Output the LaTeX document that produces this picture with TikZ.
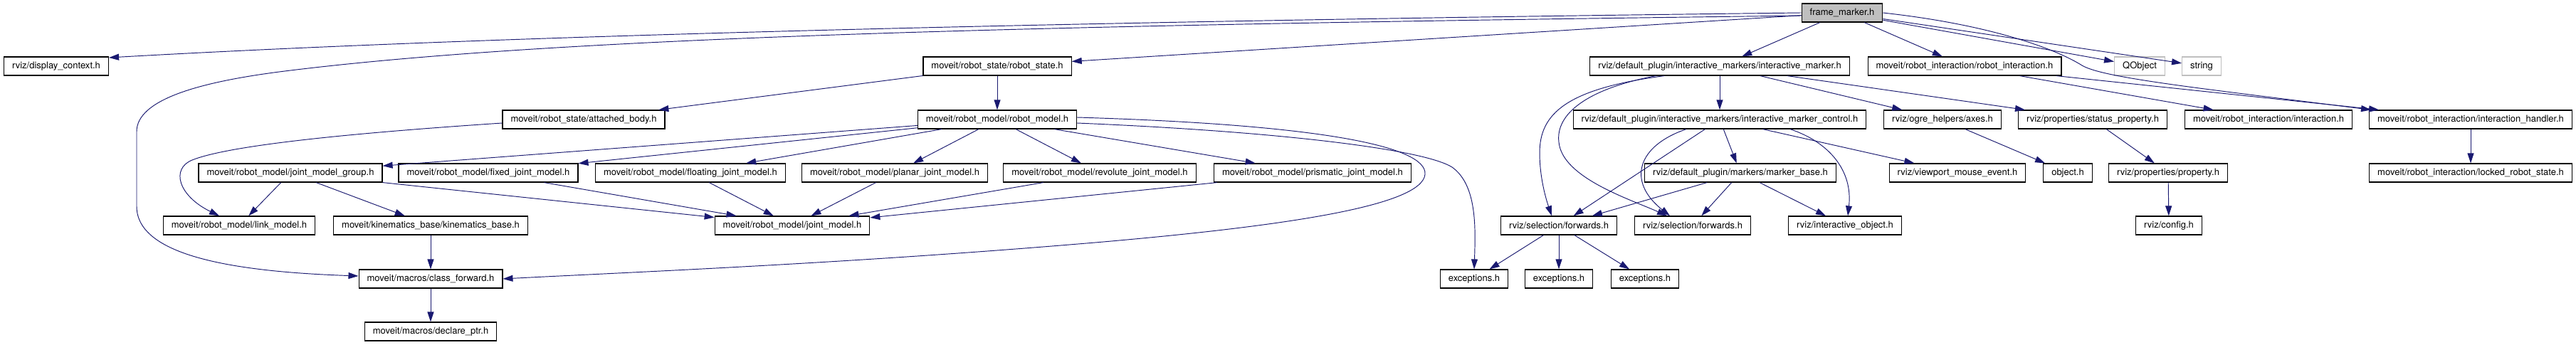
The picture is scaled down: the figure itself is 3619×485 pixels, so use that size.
\documentclass[tikz,border=0pt]{standalone}
\usepackage{fontspec}
\setmainfont{TeX Gyre Heros}
\usetikzlibrary{arrows.meta,calc}
\definecolor{edgeblue}{HTML}{191970}
\definecolor{extgray}{HTML}{BFBFBF}

\begin{document}
\begin{tikzpicture}[x=0.01cm, y=-0.01cm,
      every node/.style={font=\fontsize{3.7}{4.4}\selectfont},
      hdr/.style={draw=black, fill=white, line width=0.34pt,
                  minimum height=0.26cm, inner xsep=0.115cm, inner ysep=0pt},
      ext/.style={hdr, draw=extgray},
      root/.style={hdr, fill=extgray},
      inc/.style={draw=edgeblue, line width=0.27pt,
                  -{Triangle[length=1.4mm, width=0.9mm]}}]
    \path[use as bounding box, fill=white] (0,0) rectangle (3619,485);

    \node[root] (fm) at (2588,18) {frame\_marker.h};

    \node[hdr] (dctx)   at (79,93)   {rviz/display\_context.h};
    \node[hdr] (rstate) at (1401,93) {moveit/robot\_state/robot\_state.h};
    \node[hdr] (imark)  at (2416,93) {rviz/default\_plugin/interactive\_markers/interactive\_marker.h};
    \node[hdr] (rint)   at (2760,93) {moveit/robot\_interaction/robot\_interaction.h};
    \node[ext] (qobj)   at (3006,93) {QObject};
    \node[ext] (str)    at (3093,93) {string};

    \node[hdr] (abody)  at (820,168)  {moveit/robot\_state/attached\_body.h};
    \node[hdr] (rmodel) at (1401,168) {moveit/robot\_model/robot\_model.h};
    \node[hdr] (imctl)  at (2416,168) {rviz/default\_plugin/interactive\_markers/interactive\_marker\_control.h};
    \node[hdr] (axes)   at (2729,168) {rviz/ogre\_helpers/axes.h};
    \node[hdr] (statp)  at (2940,168) {rviz/properties/status\_property.h};
    \node[hdr] (inter)  at (3187,168) {moveit/robot\_interaction/interaction.h};
    \node[hdr] (ihand)  at (3471,168) {moveit/robot\_interaction/interaction\_handler.h};

    \node[hdr] (jmg)    at (408,243)  {moveit/robot\_model/joint\_model\_group.h};
    \node[hdr] (fixj)   at (686,243)  {moveit/robot\_model/fixed\_joint\_model.h};
    \node[hdr] (floatj) at (970,243)  {moveit/robot\_model/floating\_joint\_model.h};
    \node[hdr] (planj)  at (1257,243) {moveit/robot\_model/planar\_joint\_model.h};
    \node[hdr] (revj)   at (1545,243) {moveit/robot\_model/revolute\_joint\_model.h};
    \node[hdr] (prisj)  at (1844,243) {moveit/robot\_model/prismatic\_joint\_model.h};
    \node[hdr] (mbase)  at (2445,243) {rviz/default\_plugin/markers/marker\_base.h};
    \node[hdr] (vpme)   at (2750,243) {rviz/viewport\_mouse\_event.h};
    \node[hdr] (obj)    at (2905,243) {object.h};
    \node[hdr] (prop)   at (3046,243) {rviz/properties/property.h};
    \node[hdr] (lrs)    at (3471,243) {moveit/robot\_interaction/locked\_robot\_state.h};

    \node[hdr] (lmodel) at (336,317)  {moveit/robot\_model/link\_model.h};
    \node[hdr] (kbase)  at (605,317)  {moveit/kinematics\_base/kinematics\_base.h};
    \node[hdr] (jmodel) at (1113,317) {moveit/robot\_model/joint\_model.h};
    \node[hdr] (selfw)  at (2190,317) {rviz/selection/forwards.h};
    \node[hdr] (selfwb) at (2378,317) {rviz/selection/forwards.h};
    \node[hdr] (iobj)   at (2592,317) {rviz/interactive\_object.h};
    \node[hdr] (cfg)    at (3047,317) {rviz/config.h};

    \node[hdr] (cfwd)   at (605,392)  {moveit/macros/class\_forward.h};
    \node[hdr] (exc1)   at (2071,392) {exceptions.h};
    \node[hdr] (exc2)   at (2190,392) {exceptions.h};
    \node[hdr] (exc3)   at (2311,392) {exceptions.h};

    \node[hdr] (dptr)   at (605,466)  {moveit/macros/declare\_ptr.h};

    % frame_marker.h
    \draw[inc] (fm.west) .. controls (1500,30) and (700,50) .. ($(dctx.east)+(0,-12)$);
    \draw[inc] ($(fm.west)+(0,4)$) .. controls (1500,35) and (800,50) .. (400,100)
        .. controls (280,115) and (192,140) .. (192,185) -- (192,290)
        .. controls (192,360) and (330,382) .. ($(cfwd.west)+(0,-4)$);
    \foreach \t in {rstate,imark,rint,qobj,str}
      \draw[inc] (fm) -- (\t);
    \draw[inc] (fm.east) .. controls (2800,35) and (2890,70) .. (2925,92)
        .. controls (2955,110) and (3100,125) .. ($(ihand.north west)+(3,0)$);

    % robot state / robot model
    \draw[inc] (rstate) -- (abody);
    \draw[inc] (rstate) -- (rmodel);
    \draw[inc] ($(abody.west)+(0,5)$) .. controls (480,188) and (320,205) .. (270,225)
        .. controls (240,237) and (250,275) .. ($(lmodel.north)+(-28,0)$);
    \foreach \t in {jmg,fixj,floatj,planj,revj,prisj}
      \draw[inc] (rmodel) -- (\t);
    \draw[inc] ($(rmodel.east)+(0,-3)$) .. controls (1850,175) and (2005,205) .. (2002,245)
        .. controls (1998,290) and (1800,318) .. (1550,340)
        .. controls (1200,370) and (900,382) .. (cfwd.east);
    \draw[inc] ($(rmodel.east)+(0,5)$) .. controls (1800,185) and (2000,210) .. (2040,235)
        .. controls (2075,260) and (2073,320) .. (exc1.north);

    \draw[inc] (jmg) -- (lmodel);
    \draw[inc] (jmg) -- (kbase);
    \foreach \s in {jmg,fixj,floatj,planj,revj,prisj}
      \draw[inc] (\s) -- (jmodel);
    \draw[inc] (kbase) -- (cfwd);
    \draw[inc] (cfwd) -- (dptr);

    % interactive markers
    \draw[inc] (imark) -- (imctl);
    \draw[inc] (imark) -- (axes);
    \draw[inc] (imark) -- (statp);
    \draw[inc] ($(imark.south)+(-78,0)$) .. controls (2200,125) and (2163,160) .. (2163,215)
        .. controls (2163,250) and (2172,280) .. ($(selfw.north)+(-10,0)$);
    \draw[inc] ($(imark.south)+(-90,0)$) .. controls (2230,125) and (2185,160) .. (2190,200)
        .. controls (2195,250) and (2290,280) .. ($(selfwb.north)+(-36,0)$);

    \draw[inc] (imctl) -- (mbase);
    \draw[inc] (imctl) -- (vpme);
    \draw[inc] (imctl) -- (selfw);
    \draw[inc] ($(imctl.south)+(-47,0)$) .. controls (2300,205) and (2285,255) .. ($(selfwb.north)+(-32,0)$);
    \draw[inc] ($(imctl.south)+(99,0)$) .. controls (2570,200) and (2603,240) .. ($(iobj.north)+(4,0)$);

    \foreach \t in {selfw,selfwb,iobj}
      \draw[inc] (mbase) -- (\t);
    \foreach \t in {exc1,exc2,exc3}
      \draw[inc] (selfw) -- (\t);

    \draw[inc] (axes) -- (obj);
    \draw[inc] (statp) -- (prop);
    \draw[inc] (prop) -- (cfg);

    % robot interaction
    \draw[inc] (rint) -- (inter);
    \draw[inc] (rint) -- (ihand);
    \draw[inc] (ihand) -- (lrs);
\end{tikzpicture}
\end{document}
